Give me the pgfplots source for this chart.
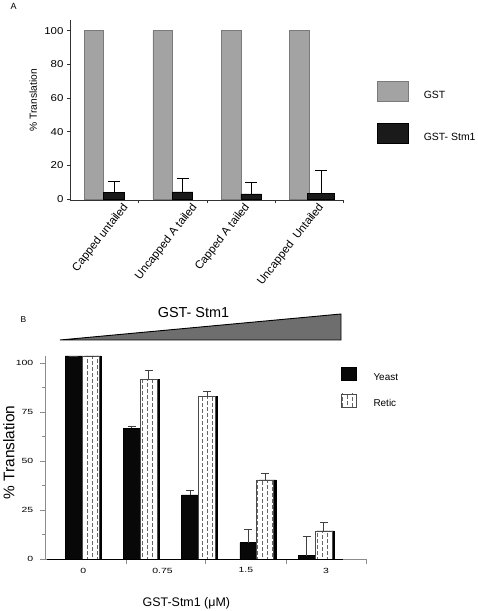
\documentclass[border=0pt]{standalone}
\usepackage{pgfplots}
\pgfplotsset{compat=1.18}
\usepackage{fontspec}
\setmainfont{Liberation Sans}
\newfontfamily\wideA[FakeStretch=1.15]{Liberation Sans}
\newfontfamily\wideB[FakeStretch=1.4]{Liberation Sans}
\usetikzlibrary{patterns}
\pgfdeclarepatternformonly{vdash}{\pgfqpoint{-1bp}{-1bp}}{\pgfqpoint{11bp}{7bp}}{\pgfqpoint{10bp}{6bp}}{%
 \pgfsetlinewidth{1.2bp}%
 \pgfpathmoveto{\pgfqpoint{2.5bp}{0.4bp}}\pgfpathlineto{\pgfqpoint{2.5bp}{3.7bp}}%
 \pgfpathmoveto{\pgfqpoint{7.5bp}{2.2bp}}\pgfpathlineto{\pgfqpoint{7.5bp}{5.5bp}}%
 \pgfusepath{stroke}}
\definecolor{gstgray}{HTML}{A3A3A3}
\definecolor{gstedge}{HTML}{7A7A7A}
\definecolor{stmblack}{HTML}{1A1A1A}
\definecolor{trigray}{HTML}{6E6E6E}
\definecolor{axgray}{HTML}{8C8C8C}
\pgfplotsset{
  legboxA/.style={legend image code/.code={\draw[##1] (0bp,-6.3bp) rectangle (31bp,13.7bp);}},
  legboxB/.style={legend image code/.code={\draw[##1] (0bp,-2.9bp) rectangle (15bp,10.1bp);}},
}
\begin{document}
\begin{tikzpicture}
\useasboundingbox (0,0) rectangle (478bp,611bp);
% ---------------- Panel A ----------------
\begin{axis}[
  at={(70bp,411bp)}, anchor=south west,
  scale only axis, width=273.3bp, height=180bp,
  xmin=70, xmax=343.3, ymin=-0.6, ymax=106.4,
  axis x line*=bottom, axis y line*=left,
  axis line style={draw=black!80, line width=0.6bp},
  tick align=outside, major tick length=3bp,
  tick style={black!80, line width=0.6bp},
  ytick={0,20,40,60,80,100},
  /pgf/number format/assume math mode=true,
  yticklabel style={font=\wideA\fontsize{10}{12}\selectfont},
  xtick={138.3,207.3,275,343.3}, xticklabels={},
  extra x ticks={125,194,246.5,320.5},
  extra x tick labels={Capped untailed,Uncapped A tailed,Capped A tailed,Uncapped~ Untailed},
  extra x tick style={major tick length=0pt, tick label style={rotate=52, anchor=east, yshift=-4bp, font=\fontsize{11.4}{13}\selectfont}},
  ylabel={\% Translation},
  ylabel style={at={(axis description cs:-0.135,0.553)}, anchor=center, font=\fontsize{10.3}{12}\selectfont},
  legend style={at={(axis cs:377,70.1)}, anchor=north west, draw=none, fill=none, inner sep=0pt,
    row sep=21.5bp, column sep=15bp, nodes={inner sep=0bp}, cells={anchor=west},
    font=\fontsize{10.5}{12}\selectfont},
  clip=false,
]
\addplot[ybar, bar width=19.5bp, bar shift=0pt, fill=gstgray, draw=gstedge, line width=0.6bp, legboxA]
  coordinates {(93.8,100) (162.7,100) (231.3,100) (299.3,100)};
\addplot[ybar, bar width=20.5bp, bar shift=0pt, fill=stmblack, draw=black, line width=0.6bp, legboxA,
  error bars/.cd, y dir=plus, y explicit, error bar style={black, line width=0.7bp},
  error mark=-, error mark options={rotate=90, black, line width=0.7bp, mark size=6bp}]
  coordinates {(114,3.96) +- (0,6.3) (182.5,4.16) +- (0,7.9) (251.2,2.97) +- (0,7.1)};
\addplot[ybar, bar width=27bp, bar shift=0pt, fill=stmblack, draw=black, line width=0.6bp, forget plot,
  error bars/.cd, y dir=plus, y explicit, error bar style={black, line width=0.7bp},
  error mark=-, error mark options={rotate=90, black, line width=0.7bp, mark size=6bp}]
  coordinates {(321,3.37) +- (0,13.4)};
\legend{GST, GST- Stm1}
\end{axis}
% ---------------- Panel B ----------------
\begin{axis}[
  at={(45bp,51.7bp)}, anchor=south west,
  scale only axis, width=322bp, height=203.3bp,
  xmin=45, xmax=367, ymin=0, ymax=103.7,
  axis x line*=bottom, axis y line*=left,
  axis line style={draw=axgray, line width=0.8bp},
  tick align=outside, major tick length=4.7bp, minor tick length=2.7bp,
  tick style={axgray, line width=0.6bp},
  ytick={0,25,50,75,100}, minor ytick={12.5,37.5,62.5,87.5},
  /pgf/number format/assume math mode=true,
  yticklabel style={font=\wideB\fontsize{7.5}{9}\selectfont, xshift=-3.5bp},
  xtick={126,205.7,286.7,366}, xticklabels={},
  extra x ticks={83.3,162.5,245.8,326},
  extra x tick labels={0,0.75,1.5,3},
  extra x tick style={major tick length=0pt, tick label style={font=\wideB\fontsize{7.5}{9}\selectfont, yshift=-5bp}},
  ylabel={\% Translation},
  ylabel style={at={(axis description cs:-0.112,0.525)}, anchor=center, font=\fontsize{15.5}{18}\selectfont},
  xlabel={GST-Stm1 (μM)},
  xlabel style={at={(axis description cs:0.439,-0.215)}, anchor=center, font=\fontsize{12.5}{14}\selectfont},
  legend style={at={(axis cs:340.7,98.0)}, anchor=north west, draw=none, fill=none, inner sep=0pt,
    row sep=11.7bp, column sep=17bp, nodes={inner sep=0bp}, cells={anchor=west},
    font=\fontsize{10}{12}\selectfont},
  clip=false,
]
% retic shadow
\addplot[ybar, bar width=17bp, bar shift=0pt, fill=black, draw=black, forget plot]
  coordinates {(92.5,103.7) (150.75,91.8) (209,83.0) (267.25,40.5) (325.5,14.5)};
% yeast
\addplot[ybar, bar width=17bp, bar shift=0pt, fill=black!97, draw=black, line width=0.5bp, legboxB,
  error bars/.cd, y dir=plus, y explicit, error bar style={black!75, line width=0.8bp},
  error mark=-, error mark options={rotate=90, black!75, line width=0.8bp, mark size=4bp}]
  coordinates {(73.5,103.7) +- (0,0) (131.75,66.8) +- (0,0.9) (190,32.8) +- (0,2.1) (248.25,8.5) +- (0,7.0) (306.5,1.9) +- (0,9.7)};
% retic white base
\addplot[ybar, bar width=17bp, bar shift=0pt, fill=white, draw=none, forget plot]
  coordinates {(90.5,103.7) (148.75,91.8) (207,83.0) (265.25,40.5) (323.5,14.5)};
% retic pattern
\addplot[ybar, bar width=17bp, bar shift=0pt, pattern=vdash, pattern color=black!60, draw=black!70, line width=0.6bp, legboxB,
  error bars/.cd, y dir=plus, y explicit, error bar style={black!75, line width=0.8bp},
  error mark=-, error mark options={rotate=90, black!75, line width=0.8bp, mark size=4bp}]
  coordinates {(90.5,103.7) +- (0,0) (148.75,91.8) +- (0,4.3) (207,83.0) +- (0,2.5) (265.25,40.5) +- (0,3.4) (323.5,14.5) +- (0,4.4)};
\draw[black, line width=0.9bp] (axis cs:47,0) -- (axis cs:343,0);
\legend{Yeast, Retic}
\end{axis}
% ---------------- decorations ----------------
\node[font=\fontsize{9}{10}\selectfont] at (13.5bp,605bp) {A};
\node[font=\fontsize{8.5}{10}\selectfont] at (23.5bp,291bp) {B};
\node[font=\fontsize{14.5}{16}\selectfont] at (193.5bp,298.3bp) {GST- Stm1};
\filldraw[fill=trigray, draw=black, line width=0.9bp] (60bp,271bp) -- (341bp,297bp) -- (341bp,271bp) -- cycle;
\end{tikzpicture}
\end{document}
